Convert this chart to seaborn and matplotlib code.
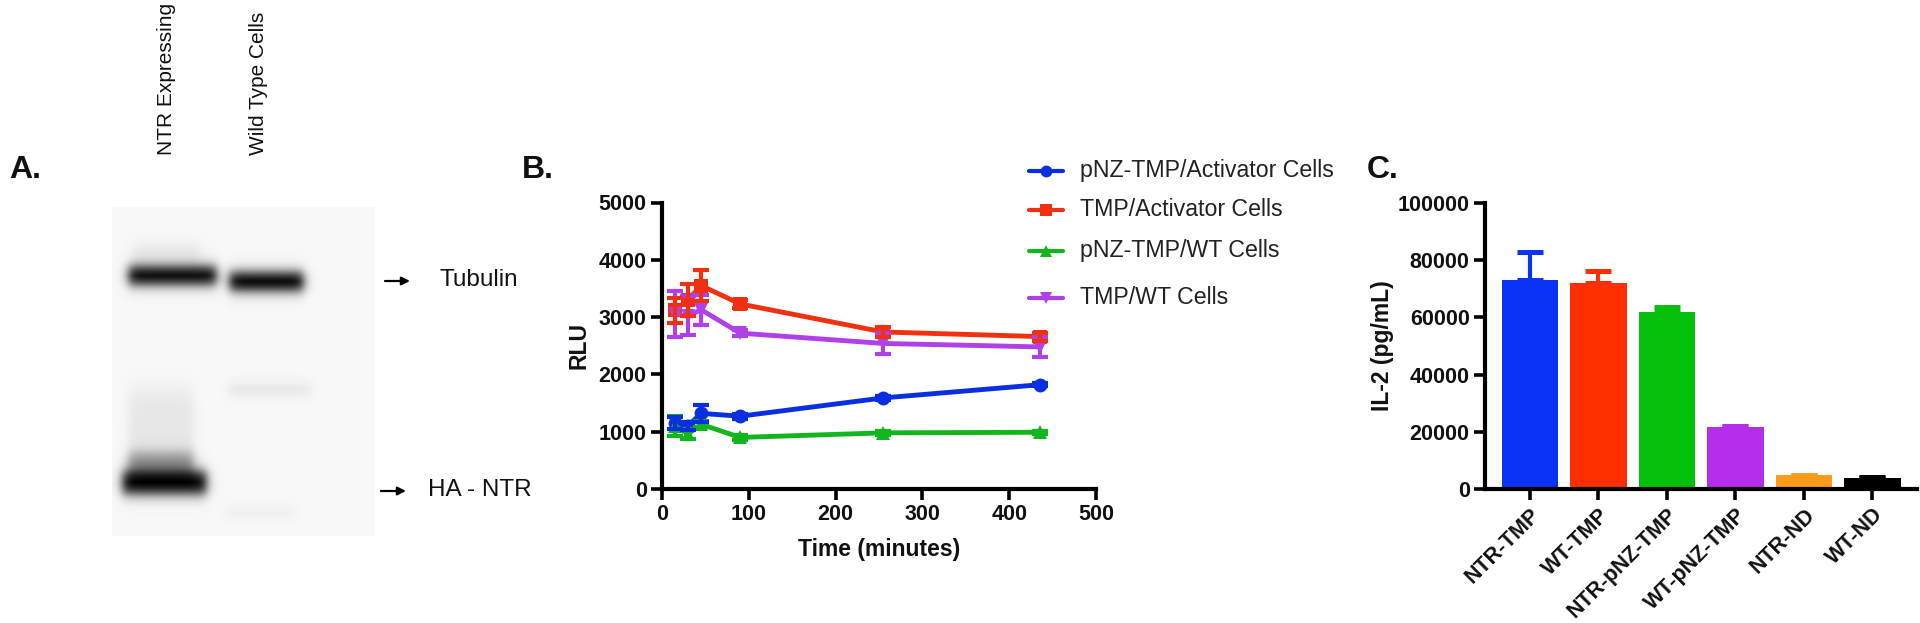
import numpy as np
import pandas as pd
import seaborn as sns
from matplotlib import pyplot as plt

W, H = 1920, 623

# Panel B values
times = [15, 30, 45, 90, 255, 435]
series_names = ['pNZ-TMP/Activator Cells', 'TMP/Activator Cells', 'pNZ-TMP/WT Cells', 'TMP/WT Cells']
pnz_act = [1150, 1100, 1320, 1270, 1590, 1820]
pnz_act_err = [110, 70, 150, 40, 40, 30]
tmp_act = [3120, 3300, 3550, 3230, 2740, 2660]
tmp_act_err = [220, 280, 270, 70, 90, 70]
pnz_wt = [1100, 960, 1130, 900, 980, 990]
pnz_wt_err = [170, 90, 50, 40, 30, 30]
tmp_wt = [3050, 3020, 3130, 2720, 2540, 2480]
tmp_wt_err = [400, 340, 260, 50, 180, 170]
line_colors = ['#0A2FE0', '#F0300F', '#12B51E', '#B040E8']
line_markers = ['o', 's', '^', 'v']
legend_y = [171, 210, 251, 298]

# Panel C values
groups = ['NTR-TMP', 'WT-TMP', 'NTR-pNZ-TMP', 'WT-pNZ-TMP', 'NTR-ND', 'WT-ND']
il2 = [73000, 72100, 62000, 21700, 4900, 3800]
il2_err = [10000, 4200, 1500, 300, 100, 400]
bar_colors = ['#0A33F5', '#FF2F00', '#05C00A', '#B52FEA', '#FF9A1A', '#000000']

# Panel A, western blot bands (pixels of the picture)
band_x0 = [128, 229, 122, 128, 128, 228, 225, 132]
band_x1 = [216, 303, 206, 193, 193, 310, 293, 200]
band_y = [275, 281, 482, 462, 425, 389, 512, 253]
band_hh = [9, 9, 11, 10, 35, 6, 5, 10]
band_amp = [0.98, 1.0, 1.0, 0.36, 0.07, 0.07, 0.04, 0.06]
blot_x = (112, 375)
blot_y = (207, 536)

sns.set_theme(style='white')
plt.rcParams['font.family'] = ['Liberation Sans', 'DejaVu Sans']
plt.rcParams['text.color'] = '#111111'


def px_axes(fig, x0, y0, x1, y1):
    '''Axes placed by picture pixels, y measured from the top'''
    return fig.add_axes([x0 / W, 1 - y1 / H, (x1 - x0) / W, (y1 - y0) / H])


def style_axis(ax):
    sns.despine(ax=ax)
    for side in ['left', 'bottom']:
        ax.spines[side].set_linewidth(3)
        ax.spines[side].set_color('black')
    ax.tick_params(axis='both', length=8, width=2.6, color='black', left=True, bottom=True,
                   labelsize=15.5, labelcolor='#111111', pad=3)
    for lab in ax.get_xticklabels() + ax.get_yticklabels():
        lab.set_fontweight('bold')


def blot_image():
    xs = np.arange(blot_x[0], blot_x[1])
    ys = np.arange(blot_y[0], blot_y[1])
    xx, yy = np.meshgrid(xs, ys)
    img = np.full(xx.shape, 0.03)
    for x0, x1, yc, hh, amp in zip(band_x0, band_x1, band_y, band_hh, band_amp):
        soft = 2.5 + hh * 0.12
        across = 1 / (1 + np.exp((np.abs(yy - yc) - hh) / soft))
        along = 1 / (1 + np.exp((x0 - xx) / 3)) * 1 / (1 + np.exp((xx - x1) / 3))
        img += amp * across * along
    return np.clip(img, 0, 1)


fig = plt.figure(figsize=(W / 100, H / 100), dpi=100, facecolor='white')

# Panel A
ax_a = px_axes(fig, blot_x[0], blot_y[0], blot_x[1], blot_y[1])
sns.heatmap(blot_image(), ax=ax_a, cmap='gray_r', vmin=0, vmax=1, cbar=False,
            xticklabels=False, yticklabels=False, rasterized=True)

# Panel B
ax_b = px_axes(fig, 662, 202.5, 1096, 489)
df = pd.DataFrame({
    'time': times * 4,
    'rlu': pnz_act + tmp_act + pnz_wt + tmp_wt,
    'series': np.repeat(series_names, len(times)),
})
sns.lineplot(data=df, x='time', y='rlu', hue='series', style='series', ax=ax_b,
             palette=dict(zip(series_names, line_colors)),
             markers=dict(zip(series_names, line_markers)),
             dashes=False, linewidth=3.5, markersize=10, markeredgewidth=0, legend=False,
             hue_order=series_names, clip_on=False, zorder=3)
draw_order = [(tmp_wt, tmp_wt_err, 3), (pnz_wt, pnz_wt_err, 2), (tmp_act, tmp_act_err, 1), (pnz_act, pnz_act_err, 0)]
for vals, errs, i in draw_order:
    ax_b.errorbar(times, vals, yerr=errs, fmt='none', ecolor=line_colors[i], elinewidth=3,
                  capsize=5.8, capthick=3, clip_on=False, zorder=3)
ax_b.set_xlim(0, 500)
ax_b.set_ylim(0, 5000)
ax_b.set_xticks(range(0, 501, 100))
ax_b.set_yticks(range(0, 5001, 1000))
ax_b.set_xlabel('Time (minutes)', fontsize=16.5, fontweight='bold', labelpad=9, color='#111111')
ax_b.set_ylabel('RLU', fontsize=16.5, fontweight='bold', labelpad=6, color='#111111')
style_axis(ax_b)

# Panel C
ax_c = px_axes(fig, 1485, 203, 1917, 489)
sns.barplot(x=groups, y=il2, hue=groups, palette=bar_colors, legend=False, width=0.82,
            errorbar=None, saturation=1, linewidth=0, ax=ax_c, zorder=2)
for i, (v, e) in enumerate(zip(il2, il2_err)):
    ax_c.errorbar(i, v, yerr=[[0], [e]], fmt='none', ecolor=bar_colors[i], elinewidth=3,
                  capsize=9.5, capthick=3.6, zorder=1)
ax_c.set_xlim(-0.657, 5.65)
ax_c.set_ylim(0, 100000)
ax_c.set_yticks(range(0, 100001, 20000))
ax_c.set_ylabel('IL-2 (pg/mL)', fontsize=16.5, fontweight='bold', labelpad=3, color='#111111')
style_axis(ax_c)
plt.setp(ax_c.get_xticklabels(), rotation=45, ha='right', rotation_mode='anchor')

# Free text, arrows and the hand placed legend
over = fig.add_axes([0, 0, 1, 1], facecolor='none')
over.set_xlim(0, W)
over.set_ylim(H, 0)
over.axis('off')

for label, x in [('A.', 9), ('B.', 522), ('C.', 1367)]:
    over.text(x, 170, label, fontsize=23, fontweight='bold', ha='left', va='center', color='#111111')

over.text(167, 155, 'NTR Expressing', fontsize=15, rotation=90, ha='center', va='bottom')
over.text(258, 155, 'Wild Type Cells', fontsize=15, rotation=90, ha='center', va='bottom')
over.text(439, 280, 'Tubulin', fontsize=17.5, ha='left', va='center')
over.text(428, 490, 'HA - NTR', fontsize=17.5, ha='left', va='center')
for x0, x1, y in [(385, 410, 281), (381, 406, 491)]:
    over.annotate('', xy=(x1, y), xytext=(x0, y),
                  arrowprops=dict(arrowstyle='-|>', color='black', lw=1.6, mutation_scale=12,
                                  shrinkA=0, shrinkB=0))

for name, color, marker, y in zip(series_names, line_colors, line_markers, legend_y):
    over.plot([1029, 1063], [y, y], color=color, lw=3, solid_capstyle='round')
    over.plot([1046], [y], color=color, marker=marker, ms=8.5, mew=0)
    over.text(1080, y, name, fontsize=16.7, ha='left', va='center', color='#222222')

fig.savefig('out.png', dpi=100, facecolor='white')
